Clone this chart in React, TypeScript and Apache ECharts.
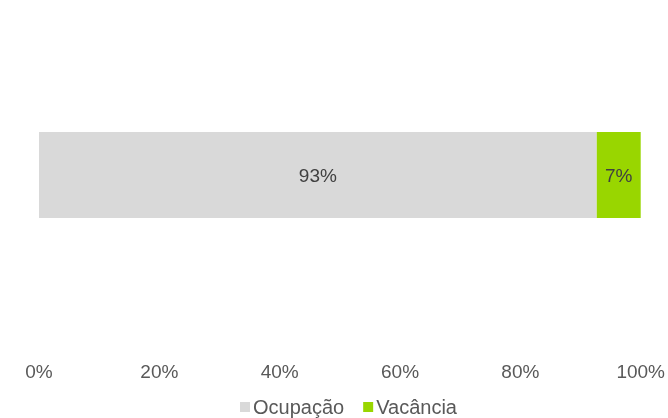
import React, { useEffect, useRef } from "react";
import * as echarts from "echarts";

const categories = ["Imóvel"];
const seriesNames = ["Ocupação", "Vacância"];
const ocupacao = [92.7];
const vacancia = [7.3];
const colors = ["#d9d9d9", "#99d600"];

export default function App() {
  const ref = useRef<HTMLDivElement>(null);
  useEffect(() => {
    const chart = echarts.init(ref.current!, undefined, { renderer: "svg" });
    const font = "Liberation Sans, Arial, sans-serif";
    const pct = (p: any) => Math.round(p.value) + "%";
    chart.setOption({
      animation: false,
      textStyle: { fontFamily: font },
      grid: { left: 39, right: 27, top: 0, height: 350 },
      legend: {
        top: 397,
        left: 240,
        padding: 0,
        itemWidth: 10,
        itemHeight: 10,
        itemGap: 19,
        icon: "rect",
        textStyle: { fontSize: 20, color: "#595959", fontFamily: font, padding: [0, 0, 0, -2] },
        data: seriesNames,
      },
      xAxis: {
        type: "value",
        min: 0,
        max: 100,
        interval: 20,
        axisLine: { show: false },
        axisTick: { show: false },
        splitLine: { show: false },
        axisLabel: {
          formatter: "{value}%",
          fontSize: 19,
          color: "#595959",
          margin: 12,
          fontFamily: font,
        },
      },
      yAxis: {
        type: "category",
        data: categories,
        axisLine: { show: false },
        axisTick: { show: false },
        axisLabel: { show: false },
      },
      series: [
        {
          name: seriesNames[0],
          type: "bar",
          stack: "total",
          data: ocupacao,
          barWidth: 86,
          itemStyle: { color: colors[0] },
          label: {
            show: true,
            position: "inside",
            formatter: pct,
            fontSize: 19,
            color: "#404040",
            fontFamily: font,
          },
        },
        {
          name: seriesNames[1],
          type: "bar",
          stack: "total",
          data: vacancia,
          barWidth: 86,
          itemStyle: { color: colors[1] },
          label: {
            show: true,
            position: "inside",
            formatter: pct,
            fontSize: 19,
            color: "#404040",
            fontFamily: font,
          },
        },
      ],
    });
    return () => chart.dispose();
  }, []);
  return (
    <div
      ref={ref}
      style={{ position: "fixed", left: 0, top: 0, width: 668, height: 418 }}
    />
  );
}
